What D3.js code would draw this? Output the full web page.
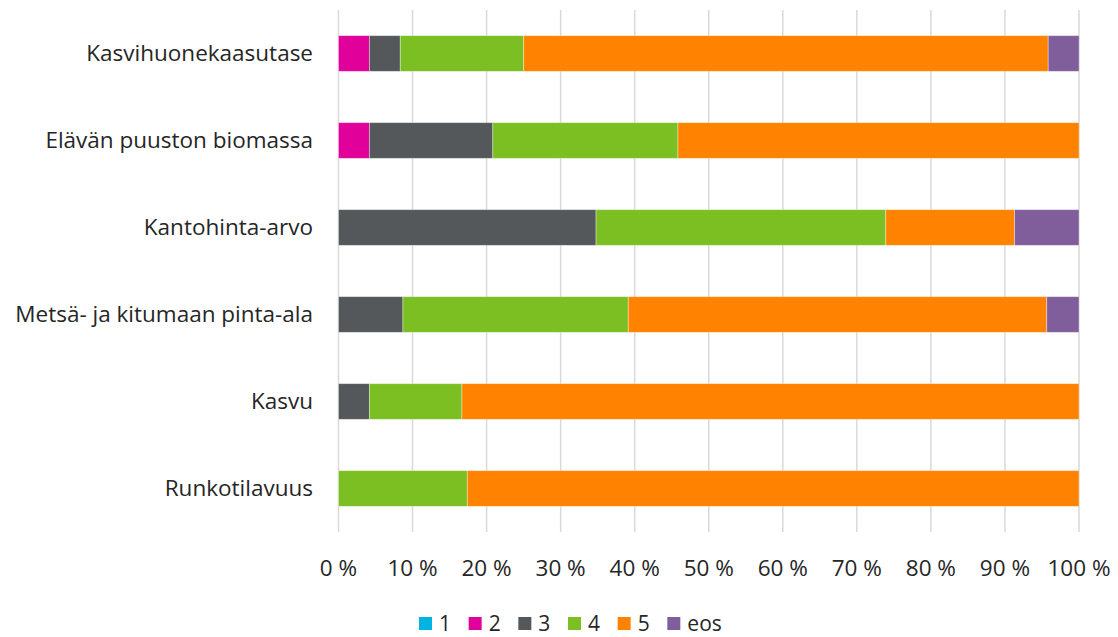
<!DOCTYPE html>
<html><head><meta charset="utf-8">
<script src="https://cdn.jsdelivr.net/npm/d3@7"></script>
<style>body{margin:0;background:#fff}svg{display:block}text{font-family:"Open Sans","Noto Sans",sans-serif;fill:#262626}</style>
</head><body><svg id="c" width="1118" height="637"></svg>
<script>
const categories = ["Kasvihuonekaasutase","Elävän puuston biomassa","Kantohinta-arvo","Metsä- ja kitumaan pinta-ala","Kasvu","Runkotilavuus"];
const seriesNames = ["1","2","3","4","5","eos"];
const s1 = [0,0,0,0,0,0];
const s2 = [4.17,4.17,0,0,0,0];
const s3 = [4.17,16.67,34.78,8.70,4.17,0];
const s4 = [16.67,25.0,39.13,30.43,12.5,17.39];
const s5 = [70.83,54.17,17.39,56.52,83.33,82.61];
const sEos = [4.17,0,8.70,4.35,0,0];
const colors = ["#00B4E1","#E2009B","#55585B","#7BBF23","#FF8300","#805E9C"];
const ticks = [0,10,20,30,40,50,60,70,80,90,100];

const svg = d3.select("#c");
const x = d3.scaleLinear().domain([0,100]).range([338.5,1079]);
const y = d3.scaleBand().domain(categories).range([10,532]).paddingInner(0.59).paddingOuter(0.295);

svg.append("g").selectAll("line").data(ticks).join("line")
  .attr("x1",d=>x(d)).attr("x2",d=>x(d)).attr("y1",10).attr("y2",532)
  .attr("stroke","#d9d9d9").attr("stroke-width",1.5);

const rows = categories.map((c,i)=>{const o={cat:c};[s1,s2,s3,s4,s5,sEos].forEach((s,j)=>o[seriesNames[j]]=s[i]);return o;});
const stacked = d3.stack().keys(seriesNames)(rows);
svg.append("g").selectAll("g").data(stacked).join("g").attr("fill",(d,i)=>colors[i])
  .selectAll("rect").data(d=>d.filter(v=>v[1]-v[0]>0)).join("rect")
  .attr("x",d=>x(d[0])).attr("width",d=>x(d[1])-x(d[0]))
  .attr("y",d=>y(d.data.cat)).attr("height",y.bandwidth())
  .attr("stroke","#fff").attr("stroke-opacity",0.45).attr("stroke-width",0.8);

svg.append("g").selectAll("text").data(categories).join("text")
  .attr("x",313).attr("y",d=>y(d)+y.bandwidth()/2).attr("dy","0.35em")
  .attr("text-anchor","end").attr("font-size",22.5).text(d=>d);

svg.append("g").selectAll("text").data(ticks).join("text")
  .attr("x",d=>x(d)).attr("y",576).attr("text-anchor","middle").attr("font-size",22.5)
  .text(d=>d+" %");

const lx = d3.scaleBand().domain(seriesNames).range([419,717]);
const lg = svg.append("g").selectAll("g").data(seriesNames).join("g")
  .attr("transform",d=>`translate(${lx(d)},617)`);
lg.append("rect").attr("width",13).attr("height",13).attr("fill",(d,i)=>colors[i]);
lg.append("text").attr("x",20).attr("y",14).attr("font-size",21).text(d=>d);
</script></body></html>
